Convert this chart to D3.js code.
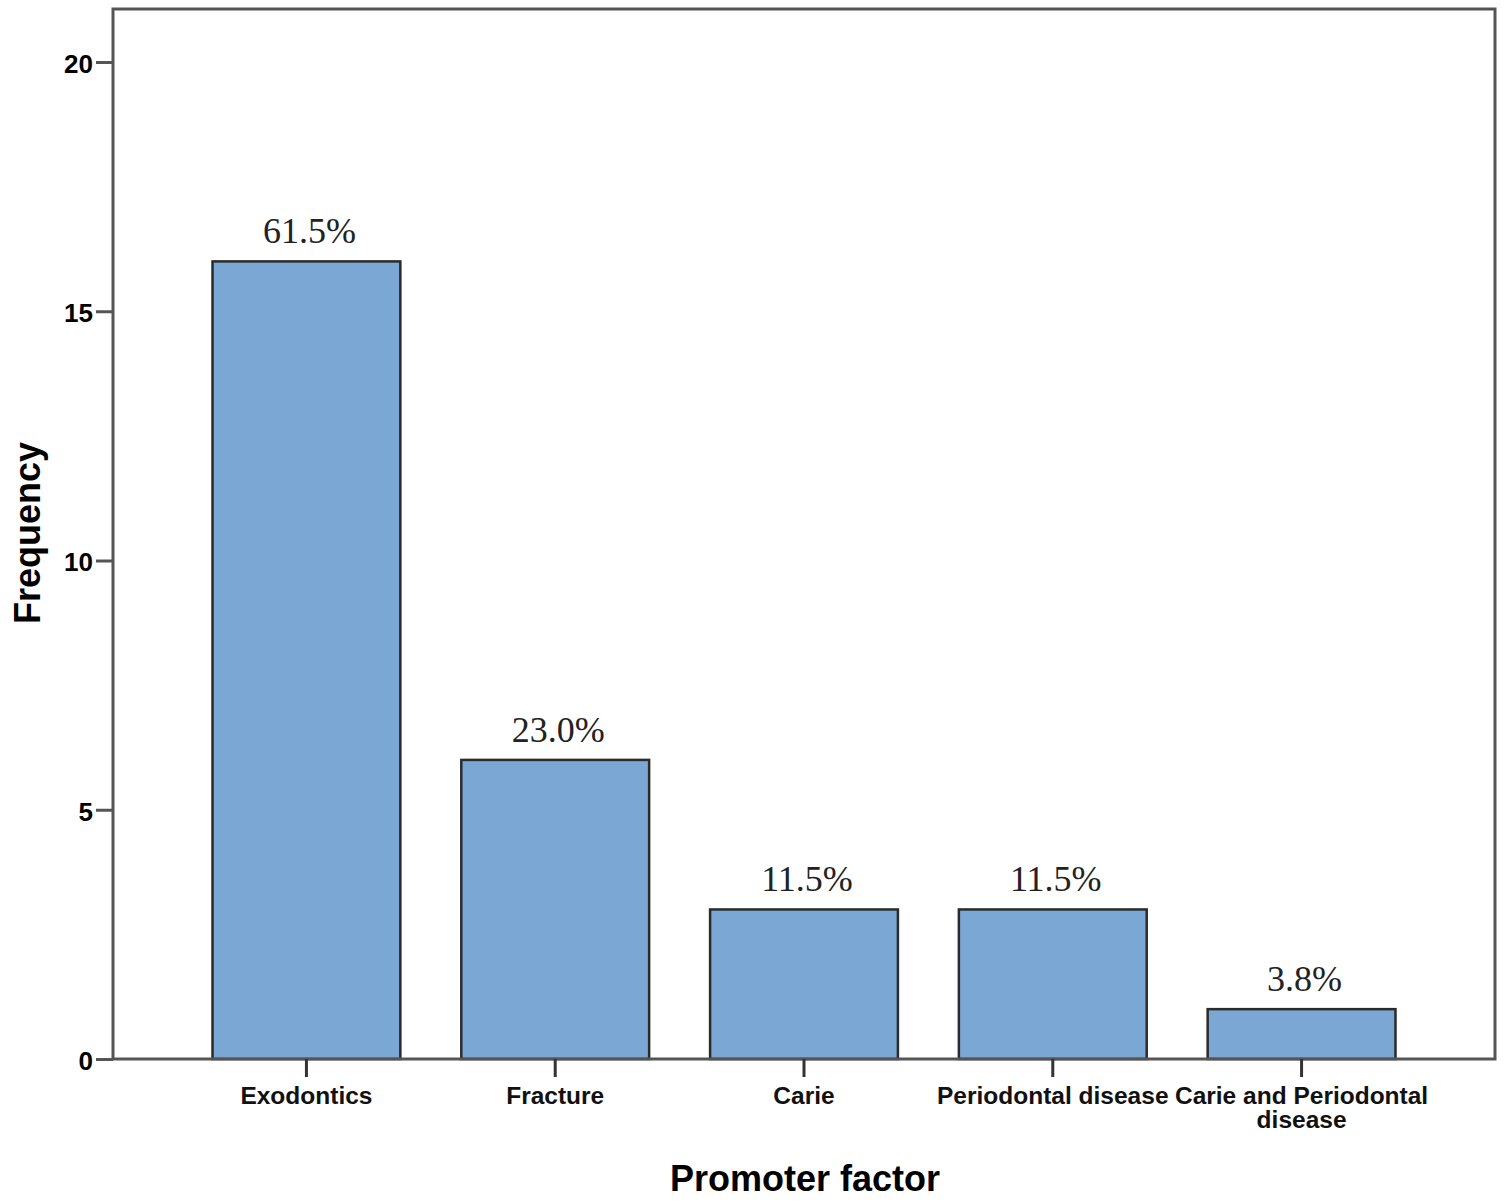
<!DOCTYPE html>
<html>
<head>
<meta charset="utf-8">
<script src="https://cdn.jsdelivr.net/npm/d3@7"></script>
<style>
  body { margin: 0; background: #fff; }
  svg { display: block; }
</style>
</head>
<body>
<svg id="chart" width="1508" height="1203"></svg>
<script>
// data
var categories = ["Exodontics", "Fracture", "Carie", "Periodontal disease", "Carie and Periodontal disease"];
var frequency = [16, 6, 3, 3, 1];
var percentLabels = ["61.5%", "23.0%", "11.5%", "11.5%", "3.8%"];
var yTicks = [0, 5, 10, 15, 20];

var svg = d3.select("#chart");
var plotLeft = 113, plotRight = 1495, plotTop = 9, plotBottom = 1059;

var x = d3.scaleBand()
    .domain(categories)
    .range([plotLeft, plotRight])
    .paddingInner(0.245)
    .paddingOuter(0.4);

var y = d3.scaleLinear()
    .domain([0, 20])
    .range([plotBottom, 62]);

// bars
svg.selectAll("rect.bar")
    .data(categories)
    .enter().append("rect")
    .attr("class", "bar")
    .attr("x", function(d) { return x(d); })
    .attr("width", x.bandwidth())
    .attr("y", function(d, i) { return y(frequency[i]); })
    .attr("height", function(d, i) { return plotBottom - y(frequency[i]); })
    .attr("fill", "#7ba7d4")
    .attr("stroke", "#2b2b2b")
    .attr("stroke-width", 2.5);

// frame
svg.append("rect")
    .attr("x", plotLeft).attr("y", plotTop)
    .attr("width", plotRight - plotLeft).attr("height", plotBottom - plotTop)
    .attr("fill", "none")
    .attr("stroke", "#555")
    .attr("stroke-width", 3);

// y axis
var yAxis = svg.append("g")
    .attr("transform", "translate(" + plotLeft + ",0)")
    .call(d3.axisLeft(y).tickValues(yTicks).tickSize(17).tickPadding(3));
yAxis.select(".domain").remove();
yAxis.selectAll(".tick line").attr("stroke", "#555").attr("stroke-width", 3);
yAxis.selectAll(".tick text")
    .attr("fill", "#000")
    .attr("dy", "0.4em")
    .style("font-family", "Liberation Sans, Arial, sans-serif")
    .style("font-weight", "bold")
    .style("font-size", "26px");

// x axis
var xAxis = svg.append("g")
    .attr("transform", "translate(0," + plotBottom + ")")
    .call(d3.axisBottom(x).tickSize(18).tickFormat(""));
xAxis.select(".domain").remove();
xAxis.selectAll(".tick line").attr("stroke", "#333").attr("stroke-width", 3);

var xLabels = svg.append("g");
categories.forEach(function(c, i) {
    var cx = x(c) + x.bandwidth() / 2;
    var lines = c === "Carie and Periodontal disease" ? ["Carie and Periodontal", "disease"] : [c];
    var t = xLabels.append("text")
        .attr("x", cx)
        .attr("y", 1104)
        .attr("text-anchor", "middle")
        .style("font-family", "Liberation Sans, Arial, sans-serif")
        .style("font-size", "24.5px")
        .style("font-weight", "bold")
        .attr("fill", "#111");
    lines.forEach(function(l, j) {
        t.append("tspan").attr("x", cx).attr("dy", j === 0 ? 0 : 24).text(l);
    });
});

// percent labels
svg.selectAll("text.pct")
    .data(categories)
    .enter().append("text")
    .attr("class", "pct")
    .attr("x", function(d) { return x(d) + x.bandwidth() / 2 + 3; })
    .attr("y", function(d, i) { return y(frequency[i]) - 18; })
    .attr("text-anchor", "middle")
    .style("font-family", "Liberation Serif, Times New Roman, serif")
    .style("font-size", "36px")
    .attr("fill", "#222")
    .text(function(d, i) { return percentLabels[i]; });

// axis titles
svg.append("text")
    .attr("transform", "translate(40,533) rotate(-90)")
    .attr("text-anchor", "middle")
    .style("font-family", "Liberation Sans, Arial, sans-serif")
    .style("font-weight", "bold")
    .style("font-size", "36px")
    .text("Frequency");

svg.append("text")
    .attr("x", 805)
    .attr("y", 1191)
    .attr("text-anchor", "middle")
    .style("font-family", "Liberation Sans, Arial, sans-serif")
    .style("font-weight", "bold")
    .style("font-size", "36px")
    .text("Promoter factor");
</script>
</body>
</html>
